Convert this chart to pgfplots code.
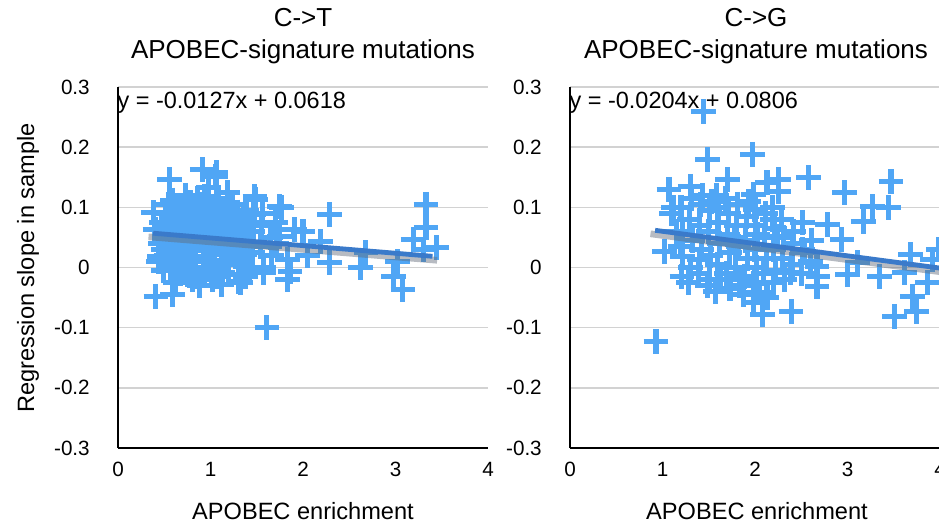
\documentclass[border=0pt]{standalone}
\usepackage{pgfplots}
\pgfplotsset{compat=1.18}
\usepackage{pgfplotstable}
\usepackage{fontspec}
\setmainfont{Liberation Sans}
\definecolor{mk}{RGB}{80,166,245}
\definecolor{tr}{RGB}{58,122,202}
\definecolor{gr}{RGB}{210,210,210}
\definecolor{sh}{RGB}{95,105,120}

\pgfplotstableread{
x y
0.56 0.146
0.91 0.163
1.06 0.158
1.05 0.151
0.98 0.133
1.18 0.125
1.48 0.118
1.49 0.113
1.75 0.101
1.77 0.100
1.91 0.063
1.75 0.052
1.83 0.013
1.86 -0.007
1.83 -0.020
1.57 0.000
1.57 -0.008
1.30 -0.023
1.32 -0.025
1.02 -0.020
0.83 -0.015
0.81 -0.020
0.64 -0.003
0.49 0.030
0.45 0.018
0.40 0.063
0.38 0.091
0.41 -0.048
0.59 -0.045
1.61 -0.100
2.29 0.088
3.33 0.105
3.33 0.066
3.19 0.047
3.44 0.033
2.29 0.008
2.68 0.025
2.62 0.000
3.02 0.010
2.98 -0.015
3.08 -0.037
2.19 0.043
2.05 0.020
3.30 0.030
2.00 0.060
0.46 0.040
0.47 0.075
0.44 0.010
0.51 0.090
0.50 0.055
0.52 0.020
0.49 -0.005
0.55 0.105
0.56 0.068
0.54 0.035
0.57 0.000
0.61 0.080
0.60 0.050
0.62 0.015
0.59 0.112
0.66 0.095
0.64 0.060
0.65 0.025
0.67 -0.010
0.63 0.042
0.71 0.100
0.70 0.072
0.72 0.038
0.69 0.005
0.73 0.120
0.76 0.085
0.74 0.052
0.77 0.018
0.75 -0.012
0.78 0.108
0.81 0.098
0.80 0.066
0.82 0.030
0.79 0.000
0.83 0.045
0.86 0.115
0.85 0.078
0.87 0.048
0.84 0.012
0.88 -0.018
0.91 0.090
0.90 0.060
0.92 0.028
0.89 0.105
0.93 -0.005
0.94 0.072
0.96 0.082
0.95 0.044
0.97 0.010
0.94 0.118
0.98 0.058
1.01 0.095
1.00 0.065
1.02 0.032
0.99 0.000
1.03 0.078
1.06 0.108
1.05 0.070
1.07 0.040
1.04 0.008
1.08 -0.015
1.11 0.088
1.10 0.055
1.12 0.022
1.09 0.112
1.13 -0.008
1.16 0.075
1.15 0.045
1.17 0.012
1.14 0.098
1.21 0.090
1.20 0.060
1.22 0.030
1.19 -0.012
1.26 0.080
1.25 0.050
1.27 0.018
1.24 0.105
1.31 0.068
1.30 0.035
1.32 0.005
1.29 0.092
1.36 0.085
1.35 0.052
1.37 0.022
1.41 0.075
1.40 0.040
1.42 0.000
1.39 0.095
1.46 0.060
1.45 0.025
1.47 0.088
1.55 0.070
1.54 0.035
1.56 0.090
1.65 0.050
1.66 0.020
1.70 0.075
1.71 0.040
0.62 -0.025
0.88 -0.030
1.12 -0.028
1.38 -0.015
}\ctdata

\pgfplotstableread{
x y
1.44 0.259
1.49 0.179
1.97 0.188
0.93 -0.123
1.02 0.027
1.21 -0.015
1.57 -0.040
2.08 -0.078
1.07 0.130
2.58 0.149
2.25 0.146
3.47 0.143
2.97 0.124
3.27 0.101
3.44 0.100
3.17 0.077
2.51 0.075
2.78 0.071
2.94 0.047
3.11 0.008
3.68 0.021
3.92 0.013
3.35 -0.015
2.68 -0.015
2.67 -0.031
2.39 -0.073
3.70 -0.048
3.51 -0.081
3.75 -0.073
3.86 -0.025
3.00 -0.012
3.62 -0.008
3.98 0.030
1.30 0.135
1.70 0.146
2.13 0.141
1.98 0.121
2.25 0.126
2.00 0.096
2.19 0.080
2.24 0.052
2.54 0.025
2.67 0.002
2.05 -0.042
2.20 -0.025
2.38 -0.008
1.22 0.018
1.40 0.013
1.51 -0.020
1.84 -0.020
1.98 -0.042
1.98 -0.058
1.20 0.100
1.22 0.060
1.19 0.035
1.31 0.115
1.29 0.080
1.32 0.045
1.30 0.000
1.28 -0.025
1.41 0.105
1.40 0.070
1.42 0.030
1.39 -0.010
1.43 0.120
1.51 0.095
1.50 0.060
1.52 0.020
1.49 -0.030
1.53 0.110
1.61 0.100
1.60 0.075
1.62 0.040
1.59 0.005
1.63 -0.020
1.58 0.120
1.71 0.090
1.70 0.055
1.72 0.025
1.69 -0.010
1.73 -0.035
1.68 0.115
1.81 0.105
1.80 0.070
1.82 0.035
1.79 0.000
1.83 -0.030
1.78 0.050
1.91 0.085
1.90 0.045
1.92 0.015
1.89 -0.015
1.93 0.110
1.88 -0.045
2.01 0.070
2.00 0.030
2.02 0.000
1.99 -0.025
2.03 0.055
2.11 0.090
2.10 0.050
2.12 0.015
2.09 -0.010
2.13 -0.050
2.21 0.065
2.20 0.030
2.22 -0.005
2.19 0.100
2.31 0.050
2.30 0.015
2.32 -0.020
2.29 0.080
2.41 0.040
2.40 0.005
2.42 0.060
2.51 0.030
2.50 -0.010
2.61 0.045
2.60 0.010
1.10 0.090
1.15 0.060
1.12 0.100
}\cgdata

\pgfplotsset{panel/.style={
  scale only axis, width=277.5pt, height=270.75pt, anchor=south west,
  clip marker paths=true,
  xmin=0, xmax=4, ymin=-0.3, ymax=0.3,
  xtick={0,1,2,3,4}, ytick={-0.3,-0.2,-0.1,0,0.1,0.2,0.3},
  axis x line*=bottom, axis y line*=left,
  axis line style={black, line width=2pt, -},
  major tick length=0pt,
  ymajorgrids, grid style={gr, line width=1.1pt},
  tick label style={font=\fontsize{15.5}{18}\selectfont},
  /pgf/number format/assume math mode=true,
  yticklabel style={anchor=east, inner sep=0pt, xshift=-21pt,
     /pgf/number format/fixed, /pgf/number format/precision=1},
  xticklabel style={anchor=north, inner sep=0pt, yshift=-10.5pt},
  mkstyle/.style={only marks, mark=+, mark size=9.3pt, mk,
     mark options={line width=3.8pt, line cap=butt}},
  shadowstyle/.style={no marks, sh, line width=5pt, opacity=0.45},
  trendstyle/.style={no marks, tr, line width=3.6pt},
}}

\begin{document}
\begin{tikzpicture}
\useasboundingbox (0,0) rectangle (704.25pt,-393pt);
\clip (0,0) rectangle (704.25pt,-393pt);

\begin{axis}[panel, at={(88.5pt,-336pt)}]
  \addplot[mkstyle] table[x=x,y=y] {\ctdata};
  \addplot[shadowstyle] coordinates {(0.33,0.051) (3.45,0.012)};
  \addplot[trendstyle] coordinates {(0.38,0.0570) (3.40,0.0186)};
\end{axis}

\begin{axis}[panel, at={(427.5pt,-336pt)}]
  \addplot[mkstyle] table[x=x,y=y] {\cgdata};
  \addplot[shadowstyle] coordinates {(0.87,0.056) (4.0,-0.007)};
  \addplot[trendstyle] coordinates {(0.92,0.0618) (4.0,-0.0010)};
\end{axis}

% titles
\node[anchor=base, inner sep=0pt, font=\fontsize{19.5}{22}\selectfont] at (227.25pt,-20.25pt) {C->T};
\node[anchor=base, inner sep=0pt, font=\fontsize{19.5}{22}\selectfont] at (227.25pt,-44.25pt) {APOBEC-signature mutations};
\node[anchor=base, inner sep=0pt, font=\fontsize{19.5}{22}\selectfont] at (567pt,-20.25pt) {C->G};
\node[anchor=base, inner sep=0pt, font=\fontsize{19.5}{22}\selectfont] at (567pt,-44.25pt) {APOBEC-signature mutations};

% equations
\node[anchor=west, inner sep=0pt, font=\fontsize{17.6}{20}\selectfont] at (88pt,-77.25pt) {y = -0.0127x + 0.0618};
\node[anchor=west, inner sep=0pt, font=\fontsize{17.6}{20}\selectfont] at (427pt,-77.25pt) {y = -0.0204x + 0.0806};

% axis labels
\node[anchor=base, inner sep=0pt, font=\fontsize{17.7}{20}\selectfont] at (227.25pt,-389.25pt) {APOBEC enrichment};
\node[anchor=base, inner sep=0pt, font=\fontsize{17.7}{20}\selectfont] at (567.75pt,-389.25pt) {APOBEC enrichment};
\node[rotate=90, anchor=center, inner sep=0pt, font=\fontsize{17.7}{20}\selectfont] at (21pt,-201pt) {Regression slope in sample};
\end{tikzpicture}
\end{document}
